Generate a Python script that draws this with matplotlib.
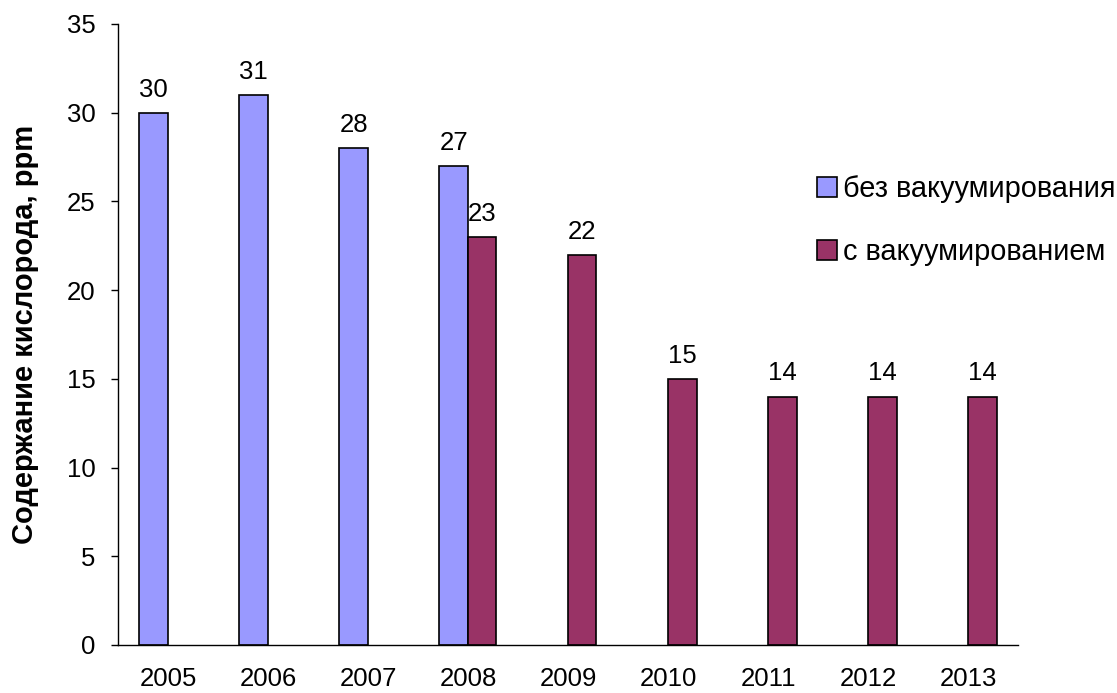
import matplotlib.pyplot as plt
import numpy as np

plt.rcParams['font.family'] = ['Liberation Sans', 'DejaVu Sans']

years = ['2005', '2006', '2007', '2008', '2009', '2010', '2011', '2012', '2013']
no_vacuum = [30, 31, 28, 27, None, None, None, None, None]
with_vacuum = [None, None, None, 23, 22, 15, 14, 14, 14]
labels = ['без вакуумирования', 'с вакуумированием']
colors = ['#9999ff', '#993366']

fig = plt.figure(figsize=(11.17, 6.93), dpi=100)
ax = fig.add_axes([0.1056, 0.0693, 0.8058, 0.8961])

x = np.arange(len(years))
w = 0.285
handles = []
for vals, off, col, lab in [(no_vacuum, -w / 2, colors[0], labels[0]),
                            (with_vacuum, w / 2, colors[1], labels[1])]:
    xs = [xi + off for xi, v in zip(x, vals) if v is not None]
    vs = [v for v in vals if v is not None]
    bars = ax.bar(xs, vs, width=w, color=col, edgecolor='black', linewidth=1.2, label=lab)
    handles.append(bars)
    # value labels above bars
    for xi, v in zip(xs, vs):
        ax.annotate(str(v), (xi, v), xytext=(0, 8), textcoords='offset points',
                    ha='center', va='bottom', fontsize=18.5)

ax.set_xlim(-0.5, len(years) - 0.5)
ax.set_ylim(0, 35)
ax.set_yticks(range(0, 36, 5))
ax.set_xticks(x)
ax.set_xticklabels(years)
ax.tick_params(axis='x', length=0, pad=16, labelsize=18.5)
ax.tick_params(axis='y', length=5, width=1, pad=11, labelsize=18.5)
for s in ['top', 'right']:
    ax.spines[s].set_visible(False)
ax.spines['left'].set_linewidth(1)
ax.spines['bottom'].set_linewidth(1)

ax.set_ylabel('Содержание кислорода, ppm', fontsize=21, fontweight='bold', labelpad=20)

fig.legend(handles=handles, labels=labels, loc='upper left', bbox_to_anchor=(0.7215, 0.764),
           frameon=False, fontsize=20.8, handlelength=0.68, handleheight=0.68,
           handletextpad=0.2, labelspacing=1.22, borderaxespad=0)

fig.savefig('out.png', dpi=100)
